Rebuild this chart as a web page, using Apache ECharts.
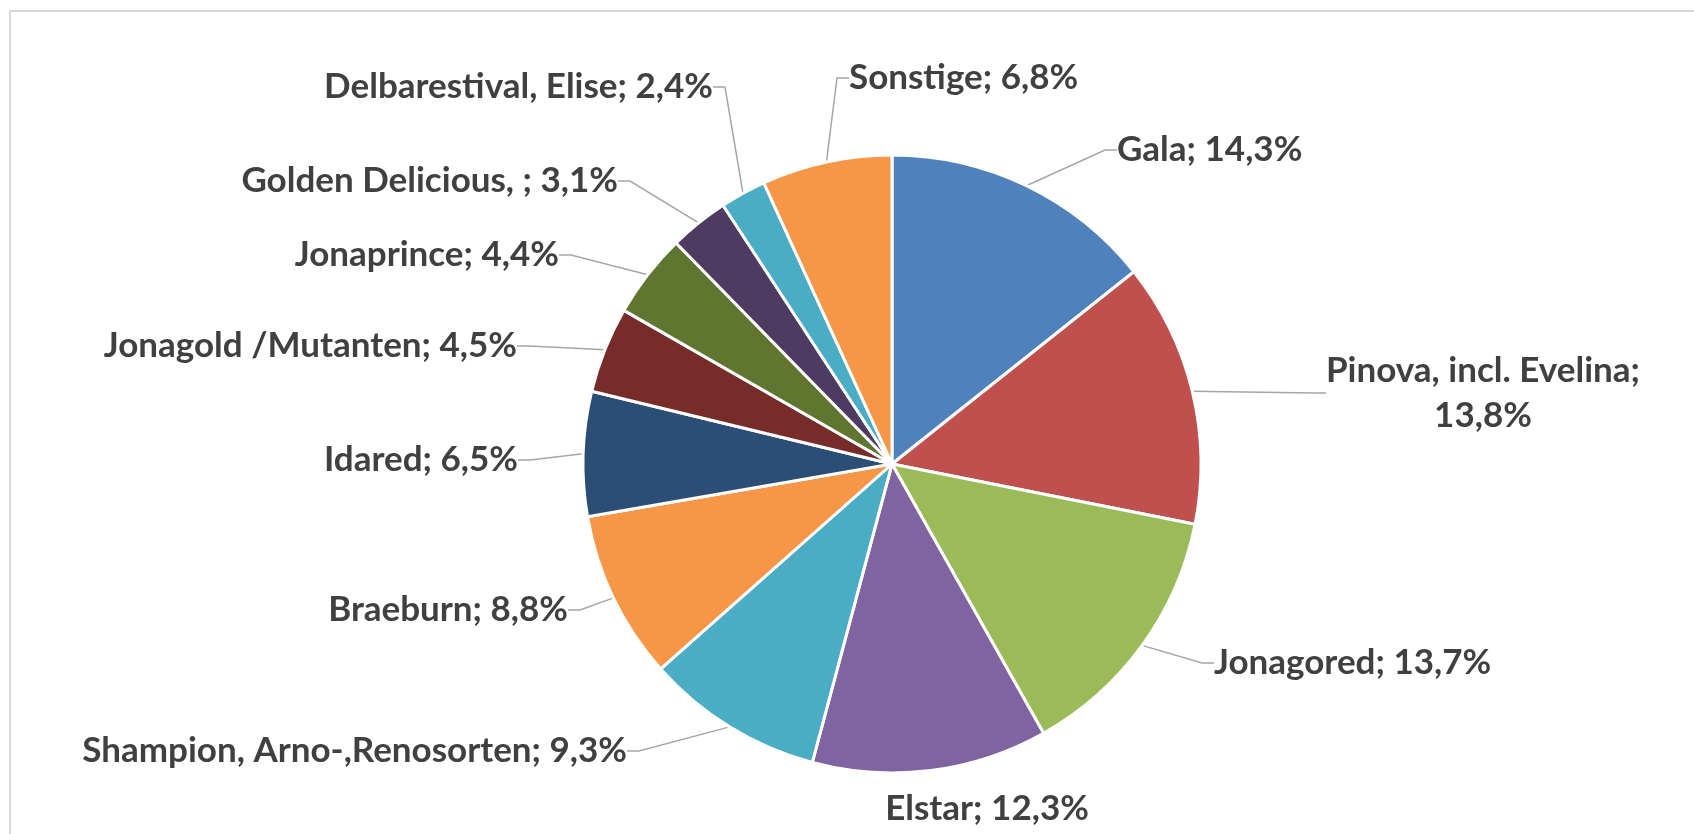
<!DOCTYPE html>
<html>
<head>
<meta charset="utf-8">
<script src="https://cdn.jsdelivr.net/npm/echarts@6/dist/echarts.min.js"></script>
<style>
  html, body { margin: 0; padding: 0; background: #fff; }
  #chart { width: 1694px; height: 834px; }
</style>
</head>
<body>
<div id="chart"></div>
<script>
// Apfelsorten, Anteil in %
const sorten = [
  'Gala', 'Pinova, incl. Evelina', 'Jonagored', 'Elstar',
  'Shampion, Arno-,Renosorten', 'Braeburn', 'Idared', 'Jonagold /Mutanten',
  'Jonaprince', 'Golden Delicious, ', 'Delbarestival, Elise', 'Sonstige'
]
const anteile = [14.3, 13.8, 13.7, 12.3, 9.3, 8.8, 6.5, 4.5, 4.4, 3.1, 2.4, 6.8]
const farben = [
  '#4f81bd', '#c0504d', '#9bbb59', '#8064a2', '#4bacc6', '#f79646',
  '#2c4d75', '#772c2a', '#5f7530', '#4d3b62', '#4bacc6', '#f79646'
]

// label anchor per slice: x, y, align (Excel placement)
const labelPos = [
  [1117, 150, 'left'],
  [1483, 393, 'center'],
  [1214, 663, 'left'],
  [987, 809, 'center'],
  [627, 751, 'right'],
  [568, 610, 'right'],
  [518, 460, 'right'],
  [517, 346, 'right'],
  [559, 255, 'right'],
  [618, 181, 'right'],
  [713, 87, 'right'],
  [849, 78, 'left']
]

const chart = echarts.init(document.getElementById('chart'))

const pieData = sorten.map((name, i) => ({
  name: name,
  value: anteile[i],
  itemStyle: { color: farben[i] },
  labelLine: { show: i !== 3 }
}))

chart.setOption({
  animation: false,
  graphic: [{
    type: 'rect',
    shape: { x: 10, y: 11, width: 1720, height: 900 },
    style: { fill: 'none', stroke: '#d9d9d9', lineWidth: 2 },
    silent: true
  }],
  series: [{
    type: 'pie',
    center: [892, 464],
    radius: 309,
    startAngle: 90,
    clockwise: true,
    avoidLabelOverlap: false,
    data: pieData,
    itemStyle: {
      borderColor: '#fff',
      borderWidth: 3
    },
    label: {
      show: true,
      position: 'outside',
      color: '#404040',
      fontFamily: 'Lato',
      fontWeight: 'bold',
      fontSize: 35,
      lineHeight: 45,
      formatter: p => {
        const pct = p.value.toFixed(1).replace('.', ',') + '%'
        return p.name + ';' + (p.dataIndex === 1 ? '\n' : ' ') + pct
      }
    },
    labelLine: {
      show: true,
      length: 20,
      length2: 12,
      lineStyle: { color: '#a6a6a6', width: 1.5 }
    },
    labelLayout: params => {
      const p = labelPos[params.dataIndex]
      return { x: p[0], y: p[1], align: p[2], verticalAlign: 'middle' }
    }
  }]
})
</script>
</body>
</html>
